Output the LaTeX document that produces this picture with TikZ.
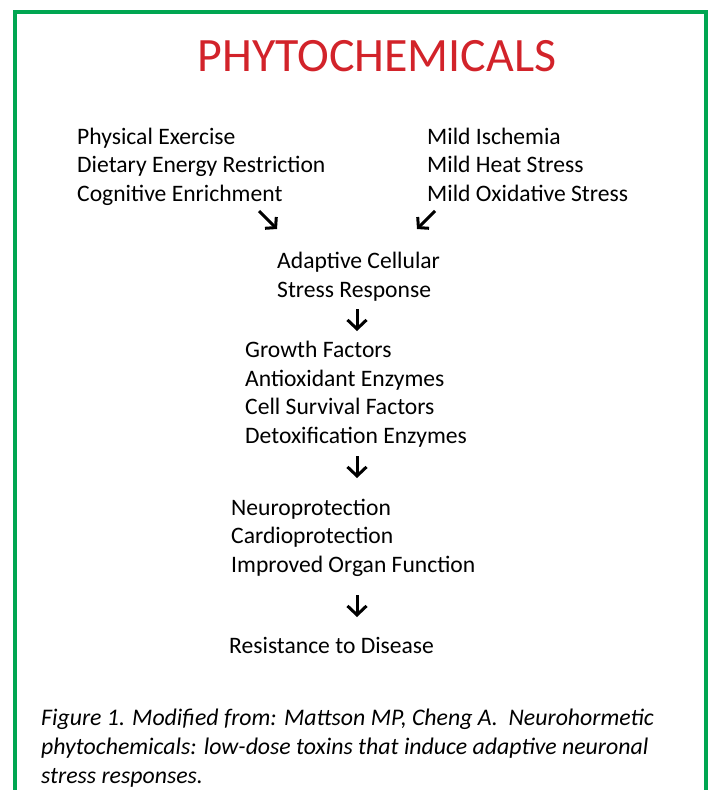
\documentclass[tikz,border=0pt]{standalone}
\usepackage{fontspec}
\setmainfont{Carlito}
\usepackage{tikz}
\usetikzlibrary{arrows.meta}

\definecolor{framegreen}{RGB}{0,166,81}
\definecolor{titlered}{RGB}{210,35,42}

\begin{document}
\begin{tikzpicture}[
    x=1pt, y=-1pt,
    % nodes are placed by the baseline of their last line
    txt/.style={anchor=base west, align=left, inner sep=0pt, font=\fontsize{23.6}{28.7}\selectfont},
    arr/.style={-{Straight Barb[length=9pt, width=19pt]}, line width=3pt},
    darr/.style={-{Straight Barb[length=7pt, width=16pt]}, line width=3pt}
]
\useasboundingbox (0,0) rectangle (710,790);
\draw[framegreen, line width=4.5pt] (15,790) -- (15,12) -- (706,12) -- (706,790);

\node[anchor=base, inner sep=0pt, text=titlered, font=\fontsize{47.9}{52}\selectfont] (title) at (377,71) {PHYTOCHEMICALS};

\node[txt] (lifestyle) at (77,201.5) {Physical Exercise\\Dietary Energy Restriction\\Cognitive Enrichment};
\node[txt] (stress) at (427,201.5) {Mild Ischemia\\Mild Heat Stress\\Mild Oxidative Stress};
\node[txt] (acsr) at (277,297.5) {Adaptive Cellular\\Stress Response};
\node[txt] (factors) at (245,443.5) {Growth Factors\\Antioxidant Enzymes\\Cell Survival Factors\\Detoxification Enzymes};
\node[txt] (protect) at (231,572.5) {Neuroprotection\\Cardioprotection\\Improved Organ Function};
\node[txt] (resist) at (229,653) {Resistance to Disease};

\node[txt, font=\fontsize{23.8}{28.7}\selectfont\itshape] (caption) at (41,783)
  {Figure 1. Modified from: Mattson MP, Cheng A.\ \ Neurohormetic\\phytochemicals: low-dose toxins that induce adaptive neuronal\\stress responses.};

% arrow ends
\coordinate (l0) at (259,211);
\coordinate (l1) at (277,229);
\coordinate (r0) at (435,211);
\coordinate (r1) at (417,229);
\coordinate (a0) at (357,309);
\coordinate (a1) at (357,331);
\coordinate (b0) at (357,456);
\coordinate (b1) at (357,478);
\coordinate (c0) at (357,595);
\coordinate (c1) at (357,617);

\draw[darr] (l0) -- (l1);
\draw[darr] (r0) -- (r1);
\draw[arr] (a0) -- (a1);
\draw[arr] (b0) -- (b1);
\draw[arr] (c0) -- (c1);
\end{tikzpicture}
\end{document}
